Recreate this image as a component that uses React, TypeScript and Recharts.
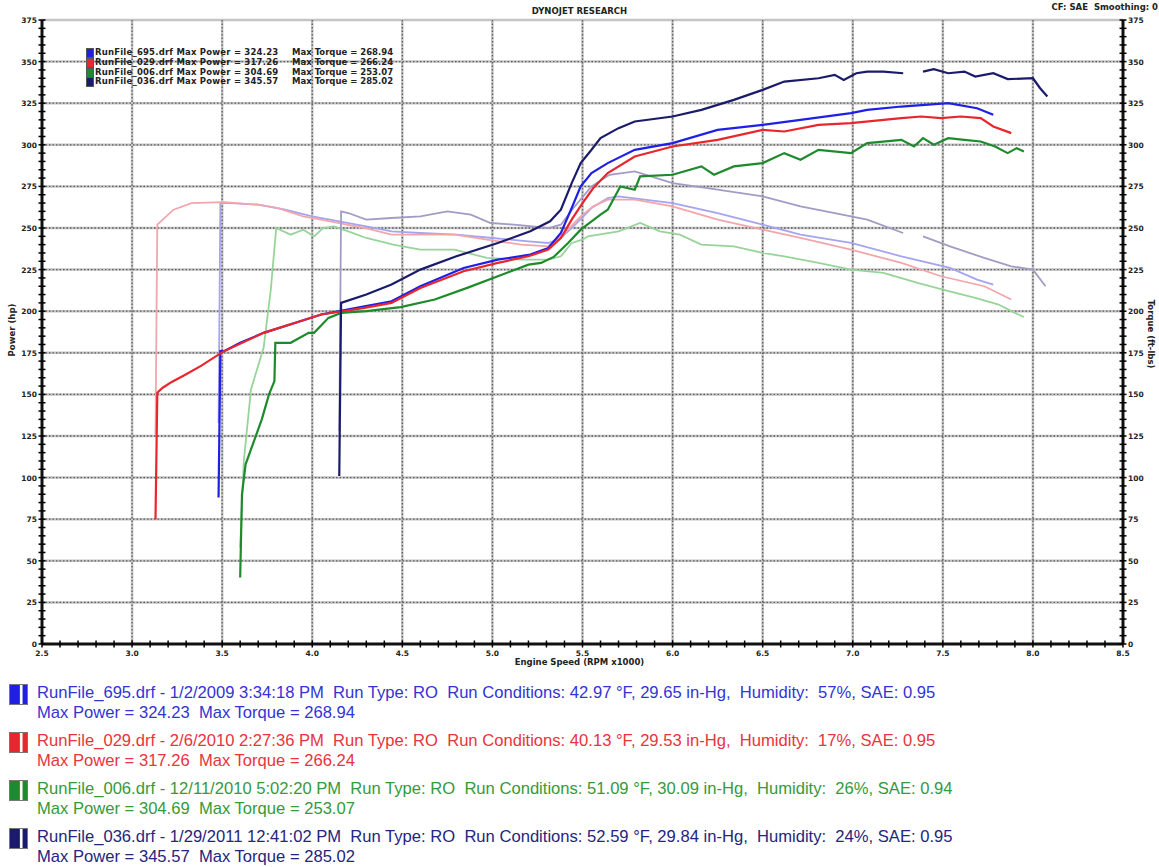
import React from 'react';
import { LineChart, Line, XAxis, YAxis, CartesianGrid } from 'recharts';

type Pt = [number, number | null];

// ---- Run 695 (blue) ----
const power695: Pt[] = [
  [3.48, 88], [3.49, 176], [3.51, 176], [3.6, 181], [3.73, 187], [3.92, 193.5], [4.05, 198], [4.15, 200],
  [4.29, 203], [4.44, 206], [4.6, 215], [4.84, 226], [5.03, 231], [5.21, 234], [5.31, 238], [5.38, 247],
  [5.44, 262], [5.49, 275], [5.55, 283], [5.64, 289], [5.79, 297], [6.0, 301], [6.25, 309], [6.5, 312],
  [6.71, 315], [6.99, 319], [7.08, 321], [7.27, 323], [7.53, 325], [7.69, 322], [7.78, 318],
];
const torque695: Pt[] = [
  [3.48, 133], [3.49, 265], [3.55, 265], [3.7, 264], [3.85, 261], [4.0, 257], [4.15, 254], [4.3, 251],
  [4.44, 248], [4.6, 247], [4.8, 246], [5.0, 244], [5.2, 242], [5.31, 241], [5.38, 244], [5.45, 251],
  [5.55, 262], [5.64, 268], [5.7, 269], [6.0, 265], [6.25, 259], [6.5, 252], [6.71, 246], [6.99, 241],
  [7.27, 233], [7.54, 226], [7.69, 219], [7.78, 216],
];

// ---- Run 029 (red) ----
const power029: Pt[] = [
  [3.13, 75], [3.14, 151], [3.17, 154], [3.22, 157.5], [3.29, 161.5], [3.38, 167], [3.51, 176], [3.73, 187],
  [3.92, 193.5], [4.05, 198], [4.29, 202], [4.44, 205], [4.6, 214], [4.84, 224], [5.03, 229], [5.2, 233],
  [5.31, 237], [5.38, 244], [5.44, 255], [5.5, 265], [5.56, 274], [5.64, 283], [5.79, 293], [6.0, 299],
  [6.25, 303], [6.5, 309], [6.62, 308], [6.81, 312], [6.99, 313], [7.27, 316], [7.38, 317], [7.49, 316],
  [7.6, 317], [7.71, 316], [7.78, 311], [7.88, 307],
];
const torque029: Pt[] = [
  [3.13, 126], [3.14, 252], [3.23, 261], [3.33, 265], [3.51, 265.6], [3.7, 264], [3.81, 262], [3.95, 257],
  [4.1, 254], [4.29, 250], [4.44, 246], [4.6, 246], [4.79, 246], [4.97, 243], [5.16, 240], [5.31, 239],
  [5.4, 247], [5.49, 257], [5.56, 263], [5.64, 267], [5.79, 267], [5.9, 265], [6.0, 263], [6.25, 255],
  [6.5, 249], [6.71, 244], [6.99, 237], [7.27, 229], [7.49, 221], [7.73, 215], [7.88, 207],
];

// ---- Run 006 (green) ----
const power006: Pt[] = [
  [3.6, 40], [3.61, 90], [3.63, 108], [3.67, 120], [3.72, 135], [3.76, 150], [3.79, 158], [3.795, 181],
  [3.88, 181], [3.98, 187], [4.01, 187], [4.09, 196], [4.16, 199], [4.3, 200], [4.49, 202.5], [4.68, 207],
  [4.86, 214], [5.03, 221], [5.2, 228], [5.27, 229], [5.34, 232.6], [5.42, 241], [5.49, 249], [5.6, 258],
  [5.64, 261], [5.71, 275], [5.79, 273], [5.82, 281], [6.0, 282], [6.16, 287], [6.23, 282], [6.34, 287],
  [6.5, 289], [6.62, 295], [6.71, 291], [6.81, 297], [6.99, 295], [7.08, 301], [7.27, 303], [7.34, 299],
  [7.39, 304], [7.45, 300], [7.53, 304], [7.62, 303], [7.71, 302], [7.79, 299], [7.86, 295], [7.91, 298],
  [7.95, 296],
];
const torque006: Pt[] = [
  [3.6, 58], [3.62, 110], [3.66, 153], [3.73, 178], [3.77, 213], [3.8, 250], [3.88, 246], [3.95, 249],
  [4.01, 245], [4.06, 250], [4.12, 251], [4.2, 248], [4.3, 244], [4.45, 240], [4.6, 237], [4.79, 237],
  [4.97, 232], [5.16, 231], [5.31, 231], [5.38, 233], [5.44, 241], [5.5, 243], [5.53, 245], [5.7, 248],
  [5.82, 253], [5.93, 248], [6.04, 246], [6.16, 240], [6.34, 239], [6.5, 235], [6.62, 233], [6.81, 229],
  [6.99, 225], [7.17, 223], [7.36, 217], [7.5, 213], [7.68, 208], [7.81, 204], [7.9, 199], [7.95, 196.5],
];

// ---- Run 036 (navy) ----
const power036: Pt[] = [
  [4.15, 101], [4.16, 205], [4.3, 210], [4.44, 216], [4.6, 225], [4.8, 233], [5.03, 241], [5.21, 248],
  [5.32, 254], [5.38, 261], [5.44, 277], [5.49, 289], [5.55, 297], [5.6, 304], [5.7, 310], [5.79, 314],
  [6.0, 317], [6.16, 321], [6.34, 327], [6.5, 333], [6.62, 338], [6.81, 340], [6.9, 342], [6.95, 339],
  [7.02, 343], [7.08, 344], [7.17, 344], [7.28, 343], [7.33, null], [7.39, 344], [7.45, 345.5], [7.53, 343],
  [7.62, 344], [7.68, 341], [7.78, 343], [7.86, 339.5], [8.0, 340], [8.04, 334], [8.08, 329],
];
const torque036: Pt[] = [
  [4.15, 128], [4.16, 260], [4.2, 259], [4.3, 255], [4.44, 256], [4.6, 257], [4.75, 260], [4.88, 258],
  [4.99, 253], [5.12, 252], [5.31, 250], [5.38, 252], [5.45, 262], [5.55, 275], [5.65, 282], [5.79, 284],
  [6.0, 277], [6.25, 273], [6.5, 269], [6.71, 263], [6.9, 259], [7.08, 255], [7.28, 247], [7.33, null],
  [7.39, 245], [7.54, 239], [7.73, 232], [7.88, 227], [8.0, 225], [8.07, 215],
];

// ---- Legend text ----
const runFiles = ['RunFile_695.drf', 'RunFile_029.drf', 'RunFile_006.drf', 'RunFile_036.drf'];
const runDates = ['1/2/2009 3:34:18 PM', '2/6/2010 2:27:36 PM', '12/11/2010 5:02:20 PM', '1/29/2011 12:41:02 PM'];
const runTemps = ['42.97', '40.13', '51.09', '52.59'];
const runBaro = ['29.65', '29.53', '30.09', '29.84'];
const runHumidity = ['57%', '17%', '26%', '24%'];
const runSae = ['0.95', '0.95', '0.94', '0.95'];
const maxPower = ['324.23', '317.26', '304.69', '345.57'];
const maxTorque = ['268.94', '266.24', '253.07', '285.02'];

const xMajorTicks = [2.5, 3.0, 3.5, 4.0, 4.5, 5.0, 5.5, 6.0, 6.5, 7.0, 7.5, 8.0, 8.5];
const yMajorTicks = [0, 25, 50, 75, 100, 125, 150, 175, 200, 225, 250, 275, 300, 325, 350, 375];

const powerColors = ['#1f1fe6', '#e8262c', '#1f8a2c', '#1b1b6b'];
const torqueColors = ['#a4a4f0', '#f2a6ac', '#98d49a', '#a29cc4'];
const textColors = ['#3333d6', '#e8343c', '#359a3a', '#25257e'];

const powers = [power695, power029, power006, power036];
const torques = [torque695, torque029, torque006, torque036];

const xMinor: number[] = [];
for (let i = 0; i <= 60; i++) xMinor.push(Math.round((2.5 + i * 0.1) * 10) / 10);
const yMinor: number[] = [];
for (let i = 0; i <= 75; i++) yMinor.push(i * 5);

const toData = (pts: Pt[]) => pts.map(([rpm, v]) => ({ rpm, v }));
const isMajorX = (v: number) => Math.abs(v * 2 - Math.round(v * 2)) < 1e-6;
const tickFont = { fontFamily: 'DejaVu Sans', fontWeight: 'bold' as const, fontSize: 7.5, fill: '#222' };

const XTick = (props: any) => {
  const { x, y, payload } = props;
  const v = payload.value as number;
  const major = isMajorX(v);
  return (
    <g>
      <line x1={x} x2={x} y1={y - 3.5} y2={y + 3.5} stroke="#000" strokeWidth={1.5} />
      {major && (
        <text x={x} y={y + 12} textAnchor="middle" {...tickFont}>
          {v.toFixed(1)}
        </text>
      )}
    </g>
  );
};

const YTickLeft = (props: any) => {
  const { x, y, payload } = props;
  const v = payload.value as number;
  const major = v % 25 === 0;
  return (
    <g>
      <line x1={x - 3.5} x2={x + 3.5} y1={y} y2={y} stroke="#000" strokeWidth={1.5} />
      {major && (
        <text x={x - 5} y={y + 3} textAnchor="end" {...tickFont}>
          {v}
        </text>
      )}
    </g>
  );
};

const YTickRight = (props: any) => {
  const { x, y, payload } = props;
  const v = payload.value as number;
  const major = v % 25 === 0;
  return (
    <g>
      <line x1={x - 3.5} x2={x + 3.5} y1={y} y2={y} stroke="#000" strokeWidth={1.5} />
      {major && (
        <text x={x + 5} y={y + 3} textAnchor="start" {...tickFont}>
          {v}
        </text>
      )}
    </g>
  );
};

const smallBold: React.CSSProperties = {
  position: 'absolute',
  fontFamily: 'DejaVu Sans',
  fontWeight: 'bold',
  fontSize: 8,
  color: '#222',
  whiteSpace: 'pre',
  lineHeight: '9px',
};

export default function App() {
  return (
    <div style={{ position: 'absolute', left: 0, top: 0, width: 1159, height: 867, background: '#fff', overflow: 'hidden' }}>
      <div style={{ position: 'absolute', left: 0, top: 0 }}>
        <LineChart width={1159} height={670} margin={{ top: 20, right: 0, left: 0, bottom: 0 }}>
          <CartesianGrid
            yAxisId="left"
            horizontalValues={yMajorTicks.slice(1)}
            verticalValues={xMajorTicks.slice(1, -1)}
            stroke="#c4c4c4"
            strokeWidth={2.5}
          />
          <CartesianGrid
            yAxisId="left"
            horizontalValues={yMajorTicks.slice(1, -1)}
            verticalValues={xMajorTicks.slice(1, -1)}
            stroke="#5e5e5e"
            strokeWidth={1.3}
            strokeDasharray="1.5 2"
          />
          <XAxis
            type="number"
            dataKey="rpm"
            domain={[2.5, 8.5]}
            ticks={xMinor}
            interval={0}
            tickSize={0}
            tickMargin={0}
            tick={<XTick />}
            height={26}
            axisLine={{ stroke: '#111', strokeWidth: 3 }}
            allowDataOverflow
          />
          <YAxis
            yAxisId="left"
            type="number"
            domain={[0, 375]}
            ticks={yMinor}
            interval={0}
            tickSize={0}
            tickMargin={0}
            tick={<YTickLeft />}
            width={42}
            axisLine={{ stroke: '#111', strokeWidth: 3 }}
            allowDataOverflow
          />
          <YAxis
            yAxisId="right"
            orientation="right"
            type="number"
            domain={[0, 375]}
            ticks={yMinor}
            interval={0}
            tickSize={0}
            tickMargin={0}
            tick={<YTickRight />}
            width={36}
            axisLine={{ stroke: '#111', strokeWidth: 3 }}
            allowDataOverflow
          />
          {torques.map((t, i) => (
            <Line
              key={'t' + i}
              data={toData(t)}
              dataKey="v"
              yAxisId="right"
              type="linear"
              stroke={torqueColors[i]}
              strokeWidth={1.8}
              dot={false}
              activeDot={false}
              connectNulls={false}
              isAnimationActive={false}
            />
          ))}
          {powers.map((p, i) => (
            <Line
              key={'p' + i}
              data={toData(p)}
              dataKey="v"
              yAxisId="left"
              type="linear"
              stroke={powerColors[i]}
              strokeWidth={2.2}
              dot={false}
              activeDot={false}
              connectNulls={false}
              isAnimationActive={false}
            />
          ))}
        </LineChart>
      </div>

      {/* Titles */}
      <div style={{ ...smallBold, left: 0, width: 1159, top: 7, textAlign: 'center', fontSize: 8.5 }}>DYNOJET RESEARCH</div>
      <div style={{ ...smallBold, right: 1, top: 3, fontSize: 8.5 }}>CF: SAE  Smoothing: 0</div>
      <div style={{ ...smallBold, left: 0, width: 1159, top: 658, textAlign: 'center', fontSize: 8.5 }}>Engine Speed (RPM x1000)</div>
      <div
        style={{ ...smallBold, left: 12, top: 330, transform: 'translate(-50%, -50%) rotate(-90deg)', fontSize: 8.5 }}
      >
        Power (hp)
      </div>
      <div
        style={{ ...smallBold, left: 1150, top: 334, transform: 'translate(-50%, -50%) rotate(90deg)', fontSize: 8.5 }}
      >
        Torque (ft-lbs)
      </div>

      {/* Inner legend */}
      {runFiles.map((f, i) => (
        <div key={'il' + i} style={{ position: 'absolute', left: 86, top: 48 + i * 9.8, height: 9 }}>
          <div
            style={{
              position: 'absolute',
              left: 0,
              top: 0,
              width: 6,
              height: 8,
              background: powerColors[i],
              border: '0.5px solid #555',
            }}
          />
          <div style={{ ...smallBold, left: 9, top: 0, fontSize: 8.5, letterSpacing: 0.2 }}>{f + ' Max Power = ' + maxPower[i]}</div>
          <div style={{ ...smallBold, left: 206, top: 0, fontSize: 8.5 }}>{'Max Torque = ' + maxTorque[i]}</div>
        </div>
      ))}

      {/* Bottom legend */}
      {runFiles.map((f, i) => (
        <div key={'bl' + i} style={{ position: 'absolute', left: 0, top: 683 + i * 48, height: 42 }}>
          <div
            style={{
              position: 'absolute',
              left: 9,
              top: 1,
              width: 17,
              height: 19,
              border: '1px solid #777',
              background: `linear-gradient(to right, ${powerColors[i]} 0%, ${powerColors[i]} 55%, #ffffff 62%, #ffffff 70%, ${powerColors[i]} 78%, ${powerColors[i]} 100%)`,
            }}
          />
          <div
            style={{
              position: 'absolute',
              left: 37,
              top: 0,
              fontFamily: 'Liberation Sans, Arial, sans-serif',
              fontSize: 16.6,
              lineHeight: '20px',
              color: textColors[i],
              whiteSpace: 'pre',
            }}
          >
            {`${f} - ${runDates[i]}  Run Type: RO  Run Conditions: ${runTemps[i]} °F, ${runBaro[i]} in-Hg,  Humidity:  ${runHumidity[i]}, SAE: ${runSae[i]}`}
            {'\n'}
            {`Max Power = ${maxPower[i]}  Max Torque = ${maxTorque[i]}`}
          </div>
        </div>
      ))}
    </div>
  );
}
